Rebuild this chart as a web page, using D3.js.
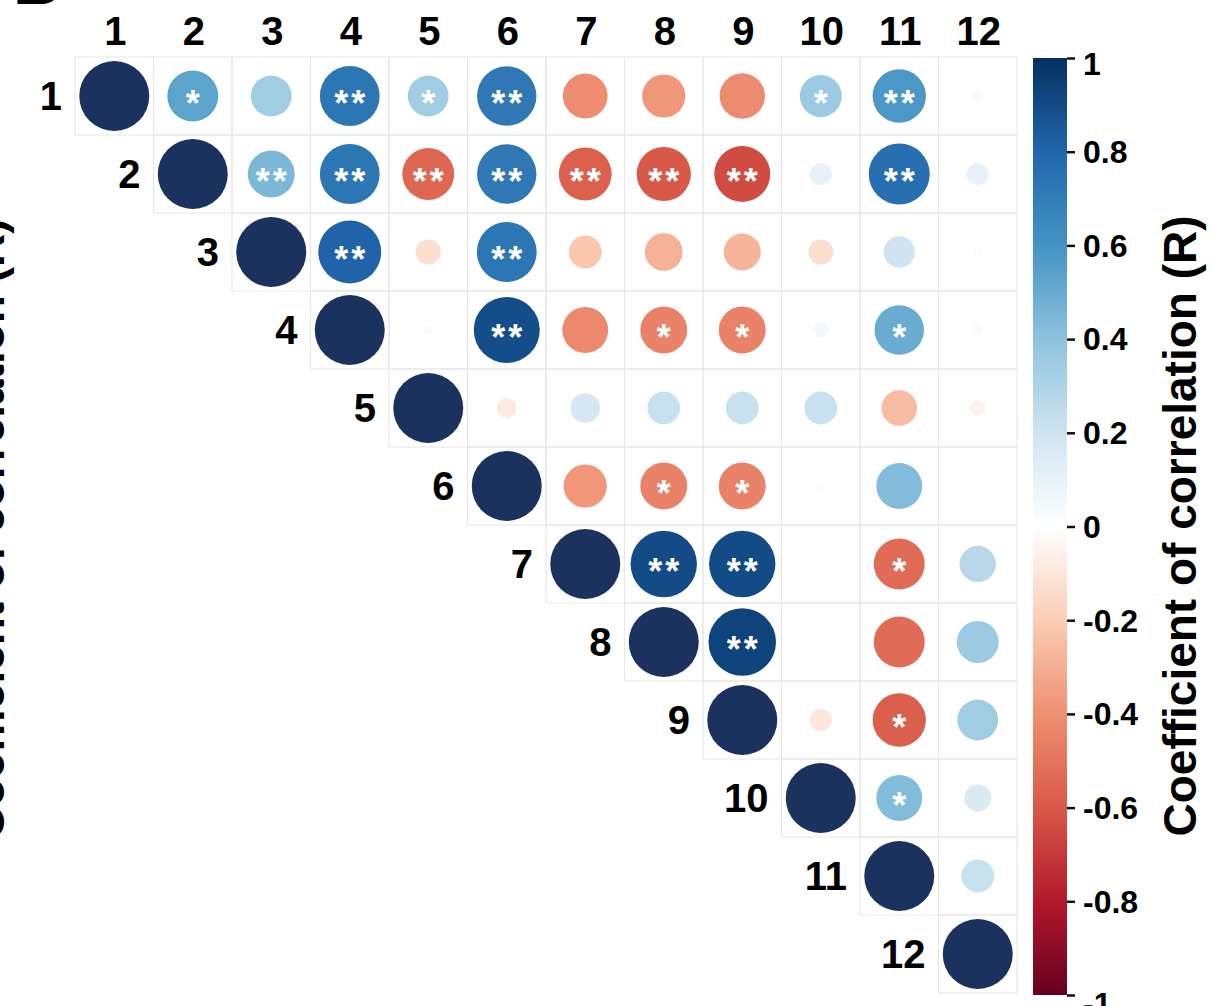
<!DOCTYPE html>
<html>
<head>
<meta charset="utf-8">
<script src="https://cdn.jsdelivr.net/npm/d3@7/dist/d3.min.js"></script>
<style>
  html, body { margin: 0; padding: 0; background: #ffffff; }
  svg { display: block; font-family: "Liberation Sans", Arial, sans-serif; }
</style>
</head>
<body>
<svg id="chart" width="1214" height="1006"></svg>
<script>
// ---- Data (upper triangle, each row starts at the diagonal) ----
const variables = ["1","2","3","4","5","6","7","8","9","10","11","12"];

const row1  = [1, 0.53, 0.34, 0.73, 0.34, 0.72, -0.41, -0.38, -0.42, 0.36, 0.58, 0.03];
const row2  = [1, 0.45, 0.73, -0.55, 0.72, -0.57, -0.60, -0.64, 0.10, 0.76, 0.10];
const row3  = [1, 0.81, -0.13, 0.73, -0.22, -0.29, -0.28, -0.13, 0.20, 0.02];
const row4  = [1, -0.02, 0.89, -0.43, -0.45, -0.45, 0.05, 0.50, 0.03];
const row5  = [1, -0.08, 0.18, 0.22, 0.22, 0.22, -0.26, -0.05];
const row6  = [1, -0.38, -0.45, -0.45, 0.02, 0.43, 0.00];
const row7  = [1, 0.90, 0.90, 0.01, -0.53, 0.27];
const row8  = [1, 0.93, 0.01, -0.53, 0.36];
const row9  = [1, -0.10, -0.58, 0.34];
const row10 = [1, 0.43, 0.15];
const row11 = [1, 0.22];
const row12 = [1];

const sig1  = ["", "*", "", "**", "*", "**", "", "", "", "*", "**", ""];
const sig2  = ["", "**", "**", "**", "**", "**", "**", "**", "", "**", ""];
const sig3  = ["", "**", "", "**", "", "", "", "", "", ""];
const sig4  = ["", "", "**", "", "*", "*", "", "*", ""];
const sig5  = ["", "", "", "", "", "", "", ""];
const sig6  = ["", "", "*", "*", "", "", ""];
const sig7  = ["", "**", "**", "", "*", ""];
const sig8  = ["", "**", "", "", ""];
const sig9  = ["", "", "*", ""];
const sig10 = ["", "*", ""];
const sig11 = ["", ""];
const sig12 = [""];

const colorbarTicks = [1, 0.8, 0.6, 0.4, 0.2, 0, -0.2, -0.4, -0.6, -0.8, -1];
const colorbarTitle = "Coefficient of correlation (R)";
const panelLetter = "B";

// RdBu-like palette from -1 to 1
const paletteStops = ["#67001F","#B2182B","#D85948","#EF9072","#FBCDB5","#FFFFFF",
                      "#CFE4F0","#8EC3DE","#4393C3","#2166AC","#053061"];

// ---- Build cell table ----
const corrRows = [row1,row2,row3,row4,row5,row6,row7,row8,row9,row10,row11,row12];
const sigRows  = [sig1,sig2,sig3,sig4,sig5,sig6,sig7,sig8,sig9,sig10,sig11,sig12];
const cells = [];
corrRows.forEach((row, i) => {
  row.forEach((v, k) => {
    const j = i + k;
    cells.push({ row: variables[i], col: variables[j], value: v, sig: sigRows[i][k] });
  });
});

// ---- Scales ----
const svg = d3.select("#chart");
const x = d3.scaleBand().domain(variables).range([75, 1017]);
const y = d3.scaleBand().domain(variables).range([57, 993]);
const color = d3.scaleLinear()
  .domain(d3.range(paletteStops.length).map(i => -1 + 2 * i / (paletteStops.length - 1)))
  .range(paletteStops)
  .interpolate(d3.interpolateRgb);
const radius = d3.scaleSqrt().domain([0, 1]).range([0, 35]);

// ---- Partial elements cut by the crop ----
svg.append("text")
  .attr("x", 13).attr("y", 4)
  .attr("font-size", 66).attr("font-weight", "bold").attr("fill", "#000")
  .text(panelLetter);

svg.append("text")
  .attr("transform", "translate(4,529) rotate(-90)")
  .attr("text-anchor", "middle")
  .attr("font-size", 46).attr("font-weight", "bold").attr("fill", "#000")
  .text(colorbarTitle);

// ---- Grid cells ----
const g = svg.append("g");
g.selectAll("rect.cell").data(cells).join("rect")
  .attr("class", "cell")
  .attr("x", d => x(d.col)).attr("y", d => y(d.row))
  .attr("width", x.bandwidth()).attr("height", y.bandwidth())
  .attr("fill", "none").attr("stroke", "#e6e6e6").attr("stroke-width", 1);

// ---- Circles ----
g.selectAll("circle.corr").data(cells).join("circle")
  .attr("class", "corr")
  .attr("cx", d => x(d.col) + x.bandwidth() / 2)
  .attr("cy", d => y(d.row) + y.bandwidth() / 2)
  .attr("r", d => radius(Math.abs(d.value)))
  .attr("fill", d => d.value === 1 ? "#1b325f" : color(d.value));

// ---- Significance stars ----
const starSize = 36;
g.selectAll("text.sig").data(cells.filter(d => d.sig)).join("text")
  .attr("class", "sig")
  .attr("x", d => x(d.col) + x.bandwidth() / 2 + (d.sig.length === 2 ? 1.5 : 0))
  .attr("y", d => y(d.row) + y.bandwidth() / 2 + starSize * 0.56)
  .attr("text-anchor", "middle")
  .attr("font-size", starSize).attr("font-weight", "bold")
  .attr("letter-spacing", d => d.sig.length === 2 ? 3 : 0)
  .attr("fill", "#ffffff")
  .text(d => d.sig);

// ---- Column labels ----
svg.append("g").selectAll("text").data(variables).join("text")
  .attr("x", d => x(d) + x.bandwidth() / 2 + 1)
  .attr("y", 45)
  .attr("text-anchor", "middle")
  .attr("font-size", 40).attr("font-weight", "bold").attr("fill", "#000")
  .text(d => d);

// ---- Row labels (left of the diagonal) ----
svg.append("g").selectAll("text").data(variables).join("text")
  .attr("x", d => x(d) - 13)
  .attr("y", d => y(d) + y.bandwidth() / 2)
  .attr("dy", "0.36em")
  .attr("text-anchor", "end")
  .attr("font-size", 40).attr("font-weight", "bold").attr("fill", "#000")
  .text(d => d);

// ---- Colorbar ----
const cbX = 1033, cbW = 34;
const cbScale = d3.scaleLinear().domain([-1, 1]).range([995, 58]);
const defs = svg.append("defs");
const grad = defs.append("linearGradient").attr("id", "cbgrad")
  .attr("x1", 0).attr("y1", 1).attr("x2", 0).attr("y2", 0);
grad.selectAll("stop").data(paletteStops).join("stop")
  .attr("offset", (d, i) => i / (paletteStops.length - 1))
  .attr("stop-color", d => d);

svg.append("rect")
  .attr("x", cbX).attr("y", cbScale(1))
  .attr("width", cbW).attr("height", cbScale(-1) - cbScale(1))
  .attr("fill", "url(#cbgrad)");

const cbAxis = d3.axisRight(cbScale)
  .tickValues(colorbarTicks)
  .tickSize(8).tickPadding(8)
  .tickFormat(d => d === 0 ? "0" : String(d));
const axG = svg.append("g").attr("transform", `translate(${cbX + cbW},0)`).call(cbAxis);
axG.select(".domain").remove();
axG.selectAll(".tick line").attr("stroke", "#111").attr("stroke-width", 2.5);
axG.selectAll(".tick text")
  .attr("font-family", "Liberation Sans, Arial, sans-serif")
  .attr("font-size", 32).attr("font-weight", "bold").attr("fill", "#000")
  .attr("dy", d => d === 1 ? "0.5em" : (d === -1 ? "0.6em" : "0.34em"));

svg.append("text")
  .attr("transform", "translate(1196,526) rotate(-90)")
  .attr("text-anchor", "middle")
  .attr("font-size", 46).attr("font-weight", "bold").attr("fill", "#000")
  .text(colorbarTitle);
</script>
</body>
</html>
